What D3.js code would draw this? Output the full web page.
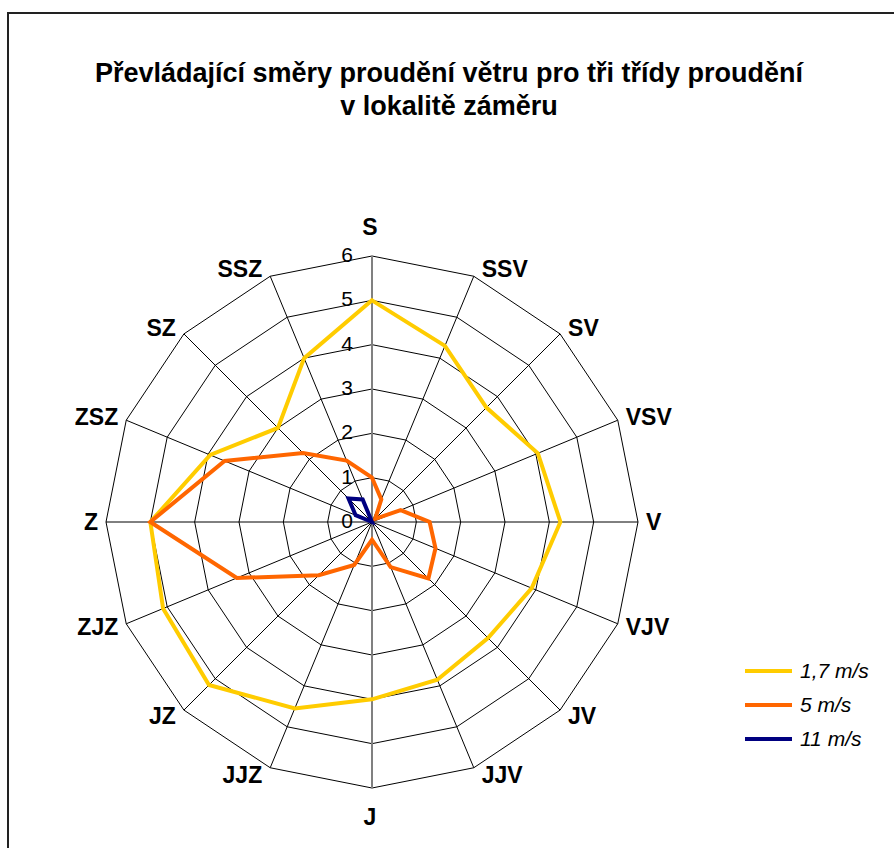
<!DOCTYPE html>
<html><head><meta charset="utf-8">
<script src="https://cdn.jsdelivr.net/npm/d3@7"></script>
<style>body{margin:0;background:#fff}svg{display:block}text{font-family:"Liberation Sans",Arial,sans-serif}</style>
</head><body>
<svg id="c" width="894" height="848"></svg>
<script>
const directions = ["S","SSV","SV","VSV","V","VJV","JV","JJV","J","JJZ","JZ","ZJZ","Z","ZSZ","SZ","SSZ"];
const s17 = [5.0, 4.3, 3.65, 4.05, 4.25, 3.9, 3.7, 3.85, 4.0, 4.55, 5.2, 5.1, 5.0, 3.95, 3.0, 4.0];
const s5  = [1.0, 0.55, 0.1, 0.7, 1.3, 1.55, 1.8, 1.1, 0.4, 1.05, 1.7, 3.3, 5.0, 3.6, 2.2, 1.5];
const s11 = [0, 0, 0, 0, 0, 0, 0, 0, 0, 0, 0, 0, 0, 0.4, 0.75, 0.55];
const seriesNames = ["1,7 m/s", "5 m/s", "11 m/s"];
const seriesColors = ["#FFCC00", "#FF6600", "#000080"];
const ticks = [0,1,2,3,4,5,6];
const titleLines = ["Převládající směry proudění větru pro tři třídy proudění", "v lokalitě záměru"];

const svg = d3.select("#c");
svg.append("rect").attr("x",8).attr("y",13).attr("width",900).attr("height",850)
  .attr("fill","none").attr("stroke","#222").attr("stroke-width",2);

svg.selectAll("text.title").data(titleLines).enter().append("text")
  .attr("x",449).attr("y",(d,i)=>82+i*33).attr("text-anchor","middle")
  .attr("font-size",27).attr("font-weight","bold").text(d=>d);

const cx = 372, cy = 522;
const r = d3.scaleLinear().domain([0,6]).range([0,266]);
const n = directions.length, step = 2*Math.PI/n;
const g = svg.append("g").attr("transform",`translate(${cx},${cy})`);

// rings
const ring = d3.lineRadial().angle((d,i)=>i*step).radius(d=>r(d)).curve(d3.curveLinearClosed);
g.selectAll("path.ring").data(ticks.slice(1)).enter().append("path")
  .attr("d",t=>ring(directions.map(()=>t))).attr("fill","none").attr("stroke","#000").attr("stroke-width",1);
// spokes
g.selectAll("line.spoke").data(directions).enter().append("line")
  .attr("x1",0).attr("y1",0)
  .attr("x2",(d,i)=>r(6)*Math.sin(i*step)).attr("y2",(d,i)=>-r(6)*Math.cos(i*step))
  .attr("stroke",(d,i)=> (i%8===0)?"#808080":"#000").attr("stroke-width",(d,i)=>(i%8===0)?2:1);

// tick labels
g.selectAll("text.tick").data(ticks).enter().append("text")
  .attr("x",-19).attr("y",t=>-r(t)+6).attr("text-anchor","end")
  .attr("font-size",21).text(t=>t);

// series
const line = d3.lineRadial().angle((d,i)=>i*step).radius(d=>r(d)).curve(d3.curveLinearClosed);
[s17,s5,s11].forEach((s,k)=>{
  g.append("path").attr("d",line(s)).attr("fill","none")
    .attr("stroke",seriesColors[k]).attr("stroke-width",4).attr("stroke-linejoin","miter");
});

// category labels
directions.forEach((d,i)=>{
  const a = i*step, ux = Math.sin(a), uy = -Math.cos(a);
  const vx = r(6)*ux, vy = r(6)*uy;
  const t = g.append("text").attr("font-size",23).attr("font-weight","bold").attr("text-anchor","middle").text(d);
  const w = t.node().getComputedTextLength();
  let lx, ly;
  if (Math.abs(ux) < 0.01) { lx = vx - 2; ly = vy + uy*29; }
  else { lx = vx + Math.sign(ux)*(w/2 + 8); ly = vy + uy*8; }
  t.attr("x", lx).attr("y", ly + 8);
});

// legend
const lg = svg.append("g");
seriesNames.forEach((nm,k)=>{
  const y = 671 + k*34;
  lg.append("line").attr("x1",745).attr("x2",792).attr("y1",y).attr("y2",y)
    .attr("stroke",seriesColors[k]).attr("stroke-width",4);
  lg.append("text").attr("x",800).attr("y",y+7).attr("font-size",21).attr("font-style","italic").text(nm);
});
</script>
</body></html>
